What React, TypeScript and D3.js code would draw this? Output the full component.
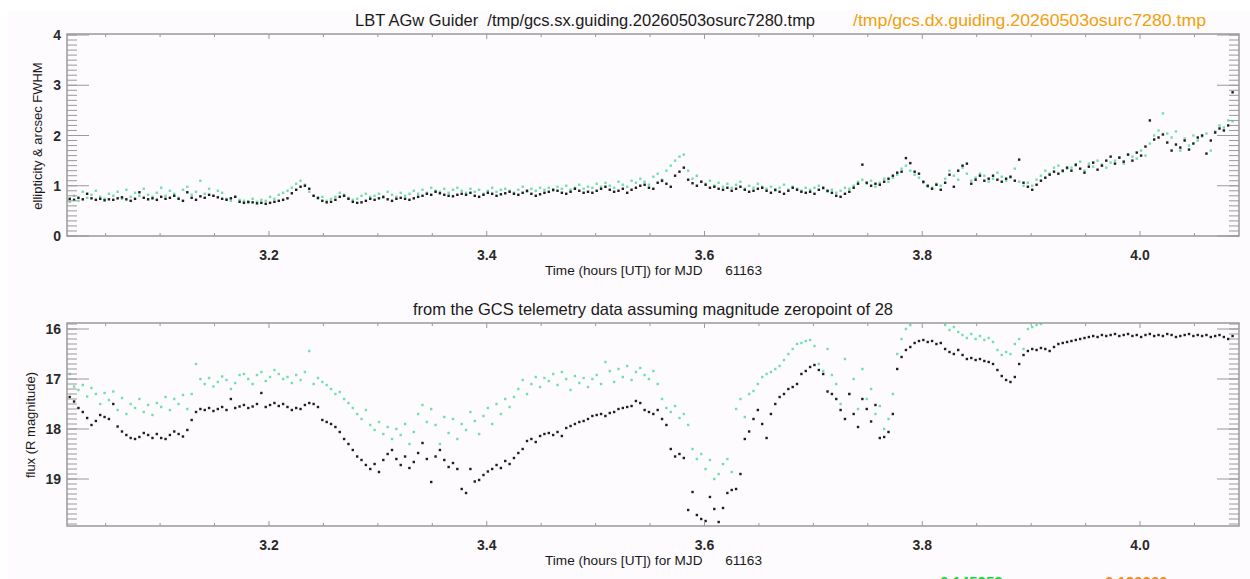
import React, { useEffect, useRef } from "react";
import * as d3 from "d3";

// guider samples: start time (hours UT) and cadence
const T0 = 3.017;
const DT = 0.004;

// top panel: ellipticity / FWHM, black (sx) and green (dx) points
const ellBlack = [
  0.74, 0.72, 0.76, 0.73, 0.84, 0.75, 0.72, 0.74, 0.71, 0.73,
  0.72, 0.75, 0.77, 0.73, 0.7, 0.74, 0.87, 0.76, 0.73, 0.75,
  0.72, 0.78, 0.74, 0.76, 0.8, 0.74, 0.7, 0.87, 0.76, 0.72,
  0.79, 0.76, 0.82, 0.8, 0.77, 0.74, 0.72, 0.75, 0.78, 0.68,
  0.66, 0.68, 0.67, 0.65, 0.66, 0.64, 0.66, 0.68, 0.7, 0.72,
  0.75, 0.85, 0.92, 0.98, 1.0, 0.94, 0.8, 0.76, 0.7, 0.67,
  0.68, 0.72, 0.78, 0.8, 0.74, 0.68, 0.66, 0.67, 0.7, 0.74,
  0.72, 0.75, 0.78, 0.73, 0.7, 0.74, 0.76, 0.74, 0.72, 0.75,
  0.78, 0.8, 0.84, 0.82, 0.88, 0.85, 0.82, 0.8, 0.79, 0.82,
  0.84, 0.82, 0.86, 0.8, 0.78, 0.82, 0.86, 0.84, 0.8, 0.83,
  0.85, 0.88, 0.84, 0.82, 0.86, 0.9, 0.84, 0.8, 0.83, 0.86,
  0.88, 0.92, 0.9, 0.86, 0.84, 0.88, 0.94, 0.9, 0.86, 0.88,
  0.86, 0.9, 0.94, 0.98, 0.92, 0.88, 0.9, 0.94, 0.86, 0.92,
  0.96, 1.0, 1.02, 0.96, 0.94, 1.06, 1.1, 1.04, 0.98, 1.2,
  1.28, 1.36, 1.12, 1.05, 1.0, 1.08, 1.02, 0.96, 0.98, 0.94,
  0.92, 0.96, 0.9, 0.94, 0.98, 0.92, 0.88, 0.9, 0.94, 0.96,
  0.9, 0.86, 0.92, 0.88, 0.84, 0.9, 0.96, 0.92, 0.88, 0.86,
  0.88, 0.84, 0.92, 0.96, 0.9, 0.86, 0.8, 0.78, 0.84, 0.88,
  0.96, 1.04, 1.42, 1.06, 1.0, 1.04, 1.02, 1.08, 1.14, 1.2,
  1.26, 1.28, 1.55, 1.45, 1.28, 1.24, 1.08, 1.0, 0.94, 1.02,
  0.92, 1.06, 1.22, 0.98, 1.3, 1.4, 1.44, 1.04, 1.12, 1.2,
  1.1, 1.14, 1.2, 1.12, 1.08, 1.14, 1.18, 1.1, 1.52, 1.06,
  0.98, 0.92, 1.02, 1.1, 1.16, 1.22, 1.28, 1.24, 1.3, 1.36,
  1.3, 1.42, 1.34, 1.26, 1.38, 1.46, 1.32, 1.4, 1.5, 1.58,
  1.44, 1.56, 1.48, 1.62, 1.5, 1.66, 1.6, 1.78, 2.3, 1.92,
  1.96, 2.02, 1.86, 1.7, 1.82, 1.76, 1.9, 1.72, 1.84, 1.96,
  2.0, 1.64, 1.9, 2.06, 2.14, 2.1, 2.2, 2.86,
];

const ellGreen = [
  0.68, 0.8, 0.7, 0.88, 0.76, 0.82, 0.9, 0.78, 0.74, 0.84,
  0.8, 0.88, 0.74, 0.92, 0.78, 0.86, 0.8, 0.94, 0.82, 0.78,
  0.86, 0.96, 0.8, 0.9, 0.84, 0.76, 0.92, 0.98, 0.82, 0.88,
  1.1, 0.84, 0.94, 0.8, 0.9, 0.86, 0.74, 0.7, 0.78, 0.72,
  0.7, 0.66, 0.74, 0.68, 0.72, 0.7, 0.78, 0.74, 0.82, 0.86,
  0.9, 0.96, 1.04, 1.1, 1.02, 0.88, 0.8, 0.74, 0.78, 0.7,
  0.74, 0.78, 0.86, 0.82, 0.76, 0.72, 0.74, 0.8, 0.84, 0.78,
  0.8, 0.84, 0.76, 0.88, 0.82, 0.78, 0.86, 0.8, 0.84, 0.9,
  0.84, 0.92, 0.86, 0.96, 0.9, 0.88, 0.94, 0.86, 0.92, 0.96,
  0.9, 0.86, 0.94, 0.88, 0.92, 0.84, 0.9, 0.96, 0.88, 0.92,
  0.94, 0.9, 0.86, 0.92, 0.98, 0.88, 0.94, 0.9, 0.96, 0.92,
  0.96, 0.9, 0.98, 0.94, 1.0, 0.92, 0.96, 1.02, 0.94, 0.98,
  0.96, 1.04, 0.98, 1.06, 1.0, 0.96, 1.08, 1.02, 0.98, 1.1,
  1.06, 1.14, 1.08, 1.02, 1.18, 1.24, 1.12, 1.3, 1.4, 1.5,
  1.58, 1.62, 1.3, 1.14, 1.2, 1.08, 1.04, 1.1, 1.0, 1.06,
  0.98, 1.04, 0.96, 1.02, 1.08, 0.94, 1.0, 0.96, 1.04, 0.98,
  0.94, 0.98, 0.9, 0.96, 1.02, 0.92, 0.98, 0.94, 0.9, 0.96,
  0.92, 0.96, 1.0, 0.94, 0.88, 0.92, 0.86, 0.9, 0.96, 0.94,
  1.0, 1.08, 1.12, 1.04, 1.1, 0.98, 1.06, 1.14, 1.08, 1.16,
  1.22, 1.34, 1.4, 1.3, 1.22, 1.16, 1.06, 0.98, 0.96, 1.04,
  1.0, 1.14, 1.3, 1.2, 1.12, 1.36, 1.24, 1.1, 1.16, 1.24,
  1.2, 1.08, 1.14, 1.26, 1.18, 1.1, 1.16, 1.34, 1.08, 1.0,
  1.06, 1.0, 1.12, 1.2, 1.3, 1.24, 1.36, 1.4, 1.28, 1.34,
  1.36, 1.4, 1.48, 1.3, 1.44, 1.38, 1.5, 1.42, 1.36, 1.46,
  1.5, 1.56, 1.44, 1.62, 1.58, 1.54, 1.7, 1.6, 1.84, 2.0,
  2.1, 2.44, 2.04, 1.96, 2.08, 1.7, 1.94, 1.8, 2.0, 1.9,
  1.98, 2.04, 1.7, 2.08, 2.2, 2.16, 2.3, 2.28,
];

// bottom panel: flux in R magnitudes
const magBlack = [
  17.36, 17.45, 17.58, 17.66, 17.78, 17.92, 17.84, 17.72, 17.76, 17.8,
  17.5, 17.95, 18.05, 18.12, 18.18, 18.2, 18.16, 18.08, 18.12, 18.18,
  18.1, 18.18, 18.2, 18.12, 18.05, 18.1, 18.15, 18.02, 17.82, 17.66,
  17.6, 17.62, 17.58, 17.64, 17.6, 17.56, 17.62, 17.4, 17.58, 17.55,
  17.52, 17.58, 17.55, 17.5, 17.28, 17.56, 17.52, 17.48, 17.54, 17.5,
  17.56, 17.62, 17.58, 17.6, 17.52, 17.48, 17.5, 17.56, 17.82, 17.86,
  17.9, 17.96, 18.06, 18.2, 18.3, 18.42, 18.55, 18.62, 18.72, 18.8,
  18.7, 18.86, 18.62, 18.5, 18.42, 18.6, 18.72, 18.55, 18.78, 18.66,
  18.48, 18.28, 18.6, 19.06, 18.55, 18.42, 18.62, 18.76, 18.68, 18.8,
  19.2, 19.28, 18.8, 19.05, 19.02, 18.92, 18.85, 18.8, 18.72, 18.78,
  18.64, 18.7, 18.58, 18.48, 18.4, 18.24, 18.2, 18.26, 18.14, 18.1,
  18.08, 18.12, 18.06, 18.14, 17.98, 17.94, 17.9, 17.86, 17.84, 17.8,
  17.74, 17.72, 17.7, 17.74, 17.68, 17.66, 17.6, 17.58, 17.56, 17.54,
  17.44, 17.48, 17.62, 17.66, 17.7, 17.62, 17.8, 17.92, 18.4, 18.55,
  18.5, 18.58, 19.62, 19.26, 19.72, 19.8, 19.84, 19.36, 19.6, 19.86,
  19.58, 19.28, 19.22, 19.2, 18.9, 18.2, 18.05, 17.8, 17.62, 17.9,
  18.18, 17.7, 17.5, 17.36, 17.3, 17.2, 17.16, 17.1, 16.9, 16.84,
  16.76, 16.72, 16.82, 16.9, 17.25, 17.3, 17.4, 17.62, 17.8, 17.3,
  17.7, 17.96, 17.4, 17.6, 17.85, 17.52, 18.18, 18.16, 18.06, 17.7,
  16.8, 16.56, 16.42, 16.36, 16.28, 16.24, 16.22, 16.26, 16.24, 16.3,
  16.28, 16.4, 16.46, 16.5, 16.42, 16.52, 16.6, 16.58, 16.62, 16.6,
  16.64, 16.66, 16.7, 16.82, 16.94, 17.02, 17.06, 16.96, 16.7, 16.52,
  16.44, 16.4, 16.42, 16.38, 16.4, 16.44, 16.36, 16.3, 16.28, 16.26,
  16.24, 16.22, 16.2, 16.18, 16.16, 16.14, 16.16, 16.12, 16.14, 16.12,
  16.1, 16.14, 16.12, 16.1, 16.14, 16.12, 16.16, 16.12, 16.1, 16.14,
  16.12, 16.14, 16.1, 16.12, 16.16, 16.14, 16.12, 16.1, 16.14, 16.12,
  16.14, 16.12, 16.16, 16.14, 16.12, 16.16, 16.2, 16.14,
];

// green magnitudes run off the top of the plot after ~3.99 h
const magGreen = [
  16.9, 17.15, 17.22, 17.12, 17.35, 17.18, 17.3, 17.5, 17.28, 17.42,
  17.25, 17.62, 17.38, 17.7, 17.5, 17.58, 17.4, 17.66, 17.52, 17.72,
  17.48, 17.56, 17.36, 17.62, 17.4, 17.5, 17.32, 17.6, 17.3, 16.7,
  17.0, 17.1, 16.98, 17.15, 17.06, 16.95, 17.02, 17.2, 17.08, 16.92,
  16.9, 17.0, 17.1, 16.92, 16.86, 17.04, 16.96, 16.82, 16.9, 17.0,
  16.96, 17.08, 16.92, 17.02, 16.86, 16.44, 17.1, 16.98, 17.06, 17.12,
  17.2, 17.3, 17.26, 17.4, 17.48, 17.58, 17.7, 17.8, 17.62, 17.92,
  18.02, 17.86, 18.1, 17.96, 18.2, 18.0, 18.12, 17.9, 18.3, 18.06,
  17.7, 17.52, 17.86, 17.6, 17.92, 18.3, 17.76, 18.08, 17.8, 18.2,
  17.9, 18.02, 17.66, 17.84, 18.1, 17.74, 17.58, 17.9, 17.5, 17.7,
  17.4, 17.56, 17.36, 17.2, 17.02, 17.3, 17.1, 16.96, 17.16, 16.98,
  17.04, 16.9, 17.12, 16.86, 17.0, 17.22, 16.94, 17.08, 16.98, 17.16,
  17.0, 16.92, 17.1, 16.66, 16.84, 17.06, 16.8, 16.96, 16.74, 17.02,
  16.86, 16.78, 16.92, 17.0, 16.84, 17.1, 17.4, 17.58, 17.66, 17.54,
  17.78, 17.7, 17.92, 18.4, 18.6, 18.5, 18.8, 18.62, 19.0, 18.9,
  18.7, 18.6, 18.86, 17.6, 17.4, 17.76, 17.3, 17.24, 17.1, 16.96,
  16.9, 16.86, 16.8, 16.74, 16.62, 16.5, 16.4, 16.3, 16.28, 16.24,
  16.22, 16.34, 16.7, 16.84, 16.4, 16.92, 17.1, 17.5, 16.6, 17.3,
  17.0, 17.6, 16.8, 17.4, 17.2, 17.7, 17.54, 18.0, 17.8, 17.3,
  16.5, 16.2, 16.0, 15.92, 15.8, 15.7, 15.76, 15.72, 15.8, 15.74,
  15.84, 15.92, 16.02, 15.96, 16.06, 16.12, 16.18, 16.1, 16.2, 16.14,
  16.22, 16.18, 16.26, 16.42, 16.52, 16.46, 16.5, 16.3, 16.2, 16.4,
  16.0, 15.96, 15.92, 15.9, 15.84, 15.8, 15.76, 15.72, 15.7, 15.7,
];

const xMajor = [3.2, 3.4, 3.6, 3.8, 4.0];
const ellTicks = [0, 1, 2, 3, 4];
const magTicks = [16, 17, 18, 19];

const title1 = "LBT AGw Guider  /tmp/gcs.sx.guiding.20260503osurc7280.tmp";
const title1b = "/tmp/gcs.dx.guiding.20260503osurc7280.tmp";
const title2 = "from the GCS telemetry data assuming magnitude zeropoint of 28";
const xTitle = "Time (hours [UT]) for MJD      61163";
const rmsSx = "0.145253";
const rmsDx = "0.129260";

const FONT = "'Liberation Sans', Arial, Helvetica, sans-serif";
const GREEN = "#72e0aa";
const BLACK = "#1e1e1e";
const AXIS = "#9a9a9a";

const App: React.FC = () => {
  const svgRef = useRef<SVGSVGElement | null>(null);

  useEffect(() => {
    const svg = d3.select(svgRef.current);
    svg.selectAll("*").remove();

    const left = 67;
    const right = 1239;
    const x = d3.scaleLinear().domain([3.0145, 4.0909]).range([left, right]);
    const tAt = (i: number) => T0 + i * DT;

    svg
      .append("rect")
      .attr("x", 8)
      .attr("y", 10)
      .attr("width", 1242)
      .attr("height", 569)
      .attr("fill", "#fdfbfd");

    const txt = (s: string, xx: number, yy: number, size: number, color: string, anchor = "start") =>
      svg
        .append("text")
        .attr("x", xx)
        .attr("y", yy)
        .attr("font-size", size)
        .attr("font-family", FONT)
        .attr("fill", color)
        .attr("text-anchor", anchor)
        .style("white-space", "pre")
        .text(s);

    const panel = (
      top: number,
      bottom: number,
      y: d3.ScaleLinear<number, number>,
      majors: number[],
      minors: number[],
      series: { values: number[]; color: string }[],
      id: string
    ) => {
      const g = svg.append("g");

      g.append("clipPath")
        .attr("id", id)
        .append("rect")
        .attr("x", left)
        .attr("y", top)
        .attr("width", right - left)
        .attr("height", bottom - top);

      const pts = g.append("g").attr("clip-path", `url(#${id})`);
      series.forEach((s) => {
        pts
          .selectAll(null)
          .data(s.values)
          .enter()
          .append("rect")
          .attr("x", (d, i) => x(tAt(i)) - 1.2)
          .attr("y", (d) => y(d) - 1.2)
          .attr("width", 2.4)
          .attr("height", 2.4)
          .attr("fill", s.color);
      });

      // y ticks, left and right, pointing inward
      minors.forEach((v) => {
        const yy = y(v);
        g.append("line").attr("x1", left).attr("x2", left + 10).attr("y1", yy).attr("y2", yy);
        g.append("line").attr("x1", right).attr("x2", right - 10).attr("y1", yy).attr("y2", yy);
      });
      majors.forEach((v) => {
        const yy = y(v);
        g.append("line").attr("x1", left).attr("x2", left + 22).attr("y1", yy).attr("y2", yy);
        g.append("line").attr("x1", right).attr("x2", right - 22).attr("y1", yy).attr("y2", yy);
        g.append("text")
          .attr("x", 61)
          .attr("y", yy + 5)
          .attr("text-anchor", "end")
          .attr("font-size", 14)
          .attr("font-weight", "bold")
          .attr("font-family", FONT)
          .attr("fill", "#2a2a2a")
          .text(d3.format("d")(v));
      });

      // x ticks top and bottom
      d3.range(3.05, 4.09, 0.05).forEach((t) => {
        const isMajor = xMajor.some((m) => Math.abs(m - t) < 1e-6);
        const len = isMajor ? 5 : 3;
        const xx = x(t);
        g.append("line").attr("x1", xx).attr("x2", xx).attr("y1", bottom).attr("y2", bottom - len);
        g.append("line").attr("x1", xx).attr("x2", xx).attr("y1", top).attr("y2", top + len);
      });
      g.selectAll("line").attr("stroke", AXIS).attr("stroke-width", 1);

      g.append("rect")
        .attr("x", left)
        .attr("y", top)
        .attr("width", right - left)
        .attr("height", bottom - top)
        .attr("fill", "none")
        .attr("stroke", AXIS)
        .attr("stroke-width", 1.5);

      xMajor.forEach((t) => {
        g.append("text")
          .attr("x", x(t))
          .attr("y", bottom + 24)
          .attr("text-anchor", "middle")
          .attr("font-size", 14)
          .attr("font-weight", "bold")
          .attr("font-family", FONT)
          .attr("fill", "#2a2a2a")
          .text(d3.format(".1f")(t));
      });

      txt(xTitle, 545, bottom + 39, 13, "#1a1a1a")
        .attr("textLength", 217)
        .attr("lengthAdjust", "spacingAndGlyphs");
    };

    const yEll = d3.scaleLinear().domain([0, 4.02]).range([236, 34]);
    panel(
      34,
      236,
      yEll,
      ellTicks,
      d3.range(0, 4.02, 0.1),
      [
        { values: ellGreen, color: GREEN },
        { values: ellBlack, color: BLACK },
      ],
      "clipTop"
    );

    const yMag = d3.scaleLinear().domain([15.88, 19.94]).range([323, 526]);
    panel(
      323,
      526,
      yMag,
      magTicks,
      d3.range(15.9, 19.94, 0.1),
      [
        { values: magGreen, color: GREEN },
        { values: magBlack, color: BLACK },
      ],
      "clipBottom"
    );

    txt(title1, 355, 26, 16.5, "#1a1a1a").attr("textLength", 460).attr("lengthAdjust", "spacingAndGlyphs");
    txt(title1b, 853, 26, 16.5, "#f0a10a").attr("textLength", 353).attr("lengthAdjust", "spacingAndGlyphs");
    txt(title2, 413, 315, 16.5, "#1a1a1a").attr("textLength", 480).attr("lengthAdjust", "spacingAndGlyphs");
    txt(rmsSx, 940, 587, 15, "#12dc3c").attr("font-weight", "bold");
    txt(rmsDx, 1105, 587, 15, "#f08a1a").attr("font-weight", "bold");

    txt("ellipticity & arcsec FWHM", 0, 0, 13, "#1a1a1a", "middle").attr(
      "transform",
      "translate(42,136) rotate(-90)"
    );
    txt("flux (R magnitude)", 0, 0, 13, "#1a1a1a", "middle").attr(
      "transform",
      "translate(35,425) rotate(-90)"
    );
  }, []);

  return (
    <svg
      ref={svgRef}
      width={1250}
      height={579}
      style={{ position: "absolute", left: 0, top: 0, background: "#fff" }}
    />
  );
};

export default App;
